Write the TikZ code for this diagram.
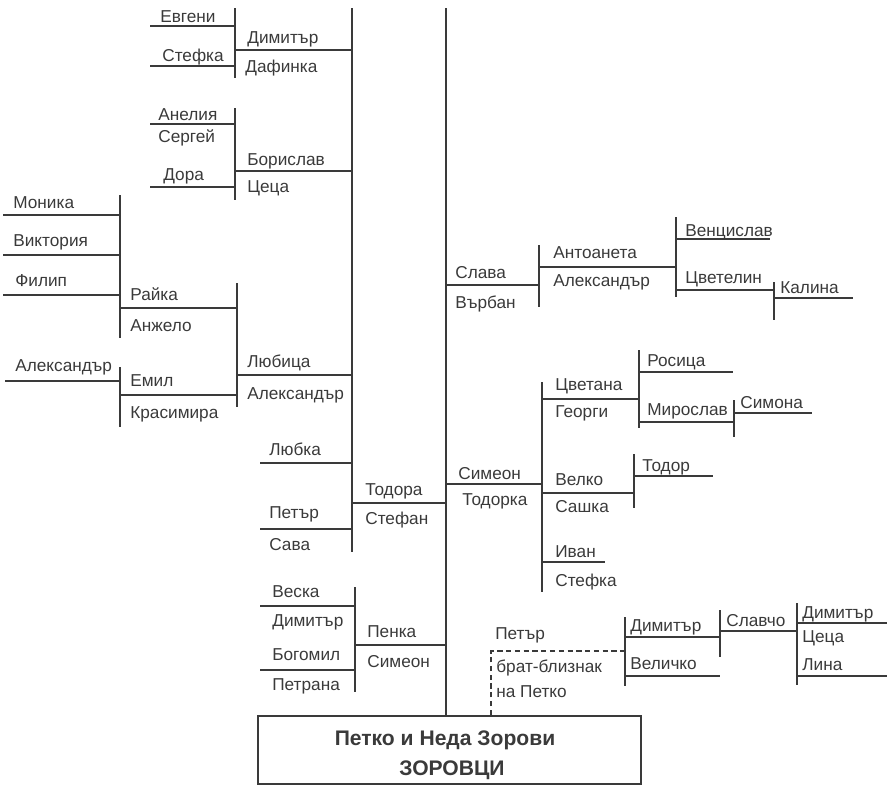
\documentclass[tikz,border=0pt]{standalone}
\usepackage{fontspec}
\setmainfont{Liberation Sans}[Script=Cyrillic,Language=Bulgarian]
\definecolor{ink}{HTML}{3A3A3A}

\begin{document}
\begin{tikzpicture}[x=0.02cm,y=-0.02cm,
every node/.style={inner sep=0pt,anchor=base west,text=ink,font=\fontsize{9.8}{11}\selectfont},
rod/.style={draw=ink,line width=0.75pt},
trunk/.style={draw=ink,line width=1.6pt},
twin/.style={draw=ink,line width=0.75pt,dash pattern=on 3pt off 2pt},
title/.style={anchor=base,font=\fontsize{12}{14}\selectfont\bfseries}]
\useasboundingbox (0,0) rectangle (887,785);

% root
\node[draw=ink,line width=1.2pt,minimum width=7.66cm,minimum height=1.36cm,anchor=north west] (root) at (257,715) {};
\node[title] (zor1) at (445,745) {Петко и Неда Зорови};
\node[title] (zor2) at (452,775) {ЗОРОВЦИ};
\coordinate (top) at (446,8);
\draw[trunk] (top) -- (top |- root.north);

% brackets, left side
\coordinate (tod1) at (352,8);   \coordinate (tod2) at (352,552);
\coordinate (dim1) at (235,8);   \coordinate (dim2) at (235,78);
\coordinate (bor1) at (235,108); \coordinate (bor2) at (235,200);
\coordinate (lju1) at (237,283); \coordinate (lju2) at (237,407);
\coordinate (raj1) at (120,195); \coordinate (raj2) at (120,338);
\coordinate (emi1) at (120,367); \coordinate (emi2) at (120,427);
\coordinate (pen1) at (355,587); \coordinate (pen2) at (355,692);
\draw[rod] (tod1)--(tod2) (dim1)--(dim2) (bor1)--(bor2) (lju1)--(lju2);
\draw[rod] (raj1)--(raj2) (emi1)--(emi2) (pen1)--(pen2);

\coordinate (evg) at (150,26);  \coordinate (stf) at (150,66);
\coordinate (dimh) at (235,50); \coordinate (ane) at (150,124);
\coordinate (dor) at (150,187); \coordinate (borh) at (235,171);
\coordinate (mon) at (3,215);   \coordinate (vik) at (3,255);
\coordinate (fil) at (3,295);   \coordinate (rajh) at (120,308);
\coordinate (ale) at (5,381);   \coordinate (emih) at (120,395);
\coordinate (ljuh) at (237,375); \coordinate (ljb) at (260,463);
\coordinate (ptr) at (260,529); \coordinate (todh) at (352,503);
\coordinate (ves) at (260,606); \coordinate (bog) at (260,670);
\coordinate (penh) at (355,645);
\draw[rod] (evg)--(evg -| dim1) (stf)--(stf -| dim1) (dimh)--(dimh -| tod1);
\draw[rod] (ane)--(ane -| bor1) (dor)--(dor -| bor1) (borh)--(borh -| tod1);
\draw[rod] (mon)--(mon -| raj1) (vik)--(vik -| raj1) (fil)--(fil -| raj1);
\draw[rod] (rajh)--(rajh -| lju1) (ale)--(ale -| emi1) (emih)--(emih -| lju1);
\draw[rod] (ljuh)--(ljuh -| tod1) (ljb)--(ljb -| tod1) (ptr)--(ptr -| tod1);
\draw[rod] (todh)--(todh -| top) (ves)--(ves -| pen1) (bog)--(bog -| pen1);
\draw[rod] (penh)--(penh -| top);

% brackets, right side
\coordinate (sla1) at (539,245); \coordinate (sla2) at (539,307);
\coordinate (ant1) at (676,217); \coordinate (ant2) at (676,297);
\coordinate (cve1) at (774,282); \coordinate (cve2) at (774,320);
\coordinate (sim1) at (542,382); \coordinate (sim2) at (542,592);
\coordinate (cvt1) at (639,350); \coordinate (cvt2) at (639,428);
\coordinate (mir1) at (734,400); \coordinate (mir2) at (734,437);
\coordinate (vel1) at (634,454); \coordinate (vel2) at (634,508);
\coordinate (pet1) at (625,617); \coordinate (pet2) at (625,686);
\coordinate (dmt1) at (720,610); \coordinate (dmt2) at (720,657);
\coordinate (slv1) at (797,603); \coordinate (slv2) at (797,685);
\draw[rod] (sla1)--(sla2) (ant1)--(ant2) (cve1)--(cve2) (sim1)--(sim2);
\draw[rod] (cvt1)--(cvt2) (mir1)--(mir2) (vel1)--(vel2);
\draw[rod] (pet1)--(pet2) (dmt1)--(dmt2) (slv1)--(slv2);

\coordinate (slah) at (446,285); \coordinate (anth) at (539,267);
\coordinate (ven) at (676,239);  \coordinate (ven2) at (770,239);
\coordinate (cvel) at (676,290); \coordinate (kal) at (774,298);
\coordinate (kal2) at (853,298); \coordinate (simh) at (446,484);
\coordinate (cvth) at (542,399); \coordinate (ros) at (639,372);
\coordinate (ros2) at (733,372); \coordinate (mirh) at (639,422);
\coordinate (smn) at (734,413);  \coordinate (smn2) at (812,413);
\coordinate (velh) at (542,493); \coordinate (tdr) at (634,476);
\coordinate (tdr2) at (713,476); \coordinate (iva) at (542,562);
\coordinate (iva2) at (605,562); \coordinate (tw) at (491,651);
\coordinate (dm1) at (625,637);  \coordinate (veli) at (625,676);
\coordinate (veli2) at (720,676); \coordinate (slvh) at (720,631);
\coordinate (dm2) at (797,623);  \coordinate (dm2e) at (887,623);
\coordinate (lin) at (797,676);  \coordinate (line) at (887,676);
\draw[rod] (slah)--(slah -| sla1) (anth)--(anth -| ant1) (ven)--(ven2);
\draw[rod] (cvel)--(cvel -| cve1) (kal)--(kal2) (simh)--(simh -| sim1);
\draw[rod] (cvth)--(cvth -| cvt1) (ros)--(ros2) (mirh)--(mirh -| mir1) (smn)--(smn2);
\draw[rod] (velh)--(velh -| vel1) (tdr)--(tdr2) (iva)--(iva2);
\draw[twin] (tw |- root.north) -- (tw) -- (tw -| pet1);
\draw[rod] (dm1)--(dm1 -| dmt1) (veli)--(veli2) (slvh)--(slvh -| slv1);
\draw[rod] (dm2)--(dm2e) (lin)--(line);

% names, left side
\node (nEvg) at (160,22) {Евгени};
\node (nStf) at (162,61) {Стефка};
\node (nDim) at (247,43) {Димитър};
\node (nDaf) at (245,72) {Дафинка};
\node (nAne) at (158,120) {Анелия};
\node (nSer) at (158,142) {Сергей};
\node (nDor) at (163,180) {Дора};
\node (nBor) at (247,165) {Борислав};
\node (nCec) at (247,192) {Цеца};
\node (nMon) at (13,208) {Моника};
\node (nVik) at (13,246) {Виктория};
\node (nFil) at (15,286) {Филип};
\node (nRaj) at (130,300) {Райка};
\node (nAnj) at (130,331) {Анжело};
\node (nLju) at (247,367) {Любица};
\node (nAl1) at (247,399) {Александър};
\node (nAl2) at (15,371) {Александър};
\node (nEmi) at (130,386) {Емил};
\node (nKra) at (130,418) {Красимира};
\node (nLjb) at (269,455) {Любка};
\node (nPtr) at (269,518) {Петър};
\node (nSav) at (269,550) {Сава};
\node (nTod) at (365,495) {Тодора};
\node (nSte) at (365,524) {Стефан};
\node (nVes) at (272,597) {Веска};
\node (nDm3) at (272,626) {Димитър};
\node (nBog) at (272,660) {Богомил};
\node (nPtn) at (272,690) {Петрана};
\node (nPen) at (367,637) {Пенка};
\node (nSi1) at (367,667) {Симеон};

% names, right side
\node (nSla) at (455,278) {Слава};
\node (nVar) at (455,308) {Върбан};
\node (nAnt) at (553,258) {Антоанета};
\node (nAl3) at (553,286) {Александър};
\node (nVen) at (685,236) {Венцислав};
\node (nCvl) at (685,283) {Цветелин};
\node (nKal) at (780,293) {Калина};
\node (nSi2) at (458,479) {Симеон};
\node (nTdk) at (462,505) {Тодорка};
\node (nCvt) at (555,390) {Цветана};
\node (nGeo) at (555,417) {Георги};
\node (nRos) at (647,366) {Росица};
\node (nMir) at (647,415) {Мирослав};
\node (nSmn) at (740,408) {Симона};
\node (nVel) at (555,485) {Велко};
\node (nSas) at (555,512) {Сашка};
\node (nTdr) at (642,471) {Тодор};
\node (nIva) at (555,557) {Иван};
\node (nSt2) at (555,586) {Стефка};
\node (nPe2) at (495,639) {Петър};
\node (nBra) at (496,672) {брат-близнак};
\node (nNaP) at (496,697) {на Петко};
\node (nDm1) at (630,631) {Димитър};
\node (nVli) at (630,669) {Величко};
\node (nSlv) at (726,626) {Славчо};
\node (nDm2) at (802,618) {Димитър};
\node (nCe2) at (802,642) {Цеца};
\node (nLin) at (802,670) {Лина};
\end{tikzpicture}
\end{document}
